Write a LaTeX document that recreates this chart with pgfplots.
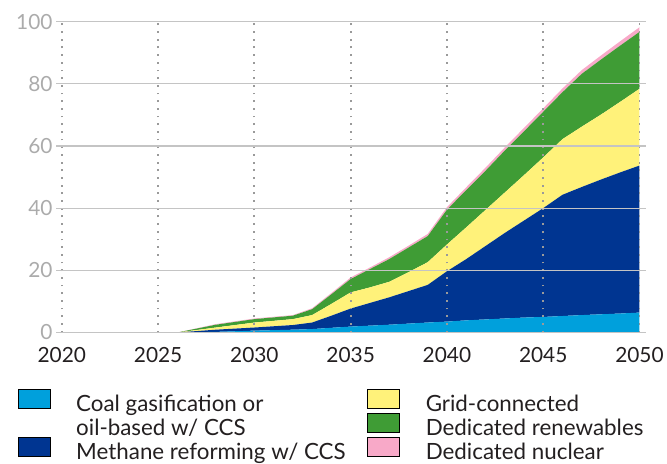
\documentclass[border=0pt]{standalone}
\usepackage{fontspec}
\setmainfont{Lato}
\usepackage{pgfplots}
\usepackage{pgfplotstable}
\pgfplotsset{compat=1.18}
\definecolor{cCoal}{HTML}{00A0DC}
\definecolor{cMeth}{HTML}{003591}
\definecolor{cGrid}{HTML}{FFF27A}
\definecolor{cRen}{HTML}{3F9C35}
\definecolor{cNuc}{HTML}{F8A9C8}
\definecolor{tickgray}{HTML}{ABABAB}
\definecolor{txt}{HTML}{231F20}
\definecolor{gridc}{HTML}{C4C4C4}
\definecolor{dotc}{HTML}{9A9A9A}

\pgfplotstableread{
year coal meth grid ren nuc
2026 0    0     0    0    0
2027 0.1  0.35  0.35 0.45 0.1
2028 0.2  0.7   0.7  0.9  0.2
2029 0.4  0.85  1.15 1.0  0.2
2030 0.6  1.0   1.6  1.1  0.2
2031 0.75 1.25  1.75 1.1  0.2
2032 0.9  1.5   1.9  1.1  0.2
2033 1.1  2.1   2.4  1.9  0.3
2034 1.5  3.9   3.8  3.1  0.4
2035 1.9  5.8   5.2  4.3  0.5
2036 2.2  7.3   5.0  5.9  0.5
2037 2.5  8.8   5.0  7.3  0.6
2038 2.85 10.45 6.1  7.9  0.6
2039 3.2  12.1  7.3  8.4  0.7
2040 3.5  16.2  8.6  11.2 0.8
2041 3.9  19.7  10.2 12.0 0.9
2042 4.2  23.6  11.6 12.6 1.0
2043 4.5  27.5  13.0 13.5 1.0
2044 4.8  31.2  14.6 14.1 1.1
2045 5.0  35.0  16.3 14.7 1.1
2046 5.3  39.0  17.9 15.1 1.2
2047 5.6  41.2  19.4 17.0 1.2
2048 5.85 43.35 20.9 17.7 1.3
2049 6.1  45.4  22.7 18.1 1.4
2050 6.4  47.3  24.7 18.3 1.5
}\datatable

\newcommand{\st}{\rule[-4.75bp]{0pt}{24.25bp}}
\newcommand{\lw}[1]{\makebox[292bp][l]{\st #1}}
\newcommand{\ls}[1]{\st #1}
\pgfplotsset{legimg/.style={legend image code/.code={\fill[##1] (0bp,-5.6bp) rectangle (32bp,13.4bp);}}}

\begin{document}
\begin{tikzpicture}
\begin{axis}[
  width=591.6bp, height=311.6bp, scale only axis,
  xmin=2019.7, xmax=2050.35, ymin=0, ymax=100,
  xtick={2020,2025,...,2050}, ytick={0,20,...,100},
  axis line style={draw=none}, major tick length=0pt,
  xmajorgrids, ymajorgrids,
  x grid style={dotc, line width=1.8bp, dash pattern=on 1.8bp off 5.9bp},
  y grid style={gridc, line width=1.3bp},
  axis on top,
  stack plots=y,
  /pgf/number format/assume math mode=true,
  x tick label style={/pgf/number format/set thousands separator={}, font=\fontsize{21}{24}\selectfont, text=txt, yshift=-11bp},
  y tick label style={font=\fontsize{21}{24}\selectfont, text=tickgray},
  legend columns=2,
  legend cell align=left,
  legend style={draw=none, fill=none, inner sep=0pt, outer sep=0pt,
    at={(rel axis cs:0,0)}, anchor=north west, xshift=-38.2bp, yshift=-56.4bp,
    font=\fontsize{22.5}{24.25}\selectfont, text=txt,
    column sep=0bp, row sep=0bp,
    nodes={inner sep=0pt, outer sep=0pt},
    /tikz/every odd column/.style={column sep=26bp}},
]
\addplot[fill=cCoal, draw=none, forget plot] table[x=year,y=coal]{\datatable} \closedcycle;
\addplot[fill=cMeth, draw=none, forget plot] table[x=year,y=meth]{\datatable} \closedcycle;
\addplot[fill=cGrid, draw=none, forget plot] table[x=year,y=grid]{\datatable} \closedcycle;
\addplot[fill=cRen, draw=none, forget plot] table[x=year,y=ren]{\datatable} \closedcycle;
\addplot[fill=cNuc, draw=none, forget plot] table[x=year,y=nuc]{\datatable} \closedcycle;

\addlegendimage{legimg, fill=cCoal}
\addlegendentry{\lw{Coal gasification or}}
\addlegendimage{legimg, fill=cGrid}
\addlegendentry{\ls{Grid-connected}}
\addlegendimage{empty legend}
\addlegendentry{\lw{oil-based w/ CCS}}
\addlegendimage{legimg, fill=cRen}
\addlegendentry{\ls{Dedicated renewables}}
\addlegendimage{legimg, fill=cMeth}
\addlegendentry{\lw{Methane reforming w/ CCS}}
\addlegendimage{legimg, fill=cNuc}
\addlegendentry{\ls{Dedicated nuclear}}
\end{axis}
\path (-56.2bp,-131.7bp) rectangle (610.8bp,333.3bp);
\end{tikzpicture}
\end{document}
